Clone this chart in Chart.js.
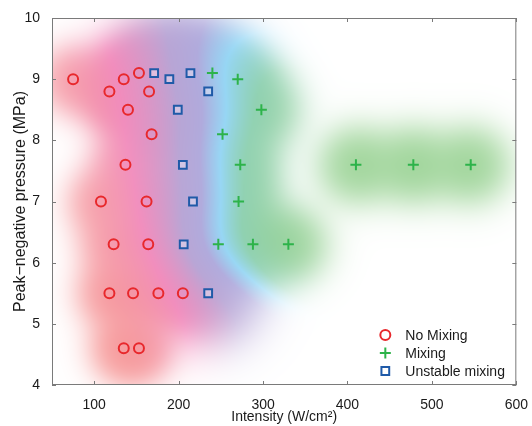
<!DOCTYPE html>
<html><head><meta charset="utf-8">
<script src="https://cdn.jsdelivr.net/npm/chart.js@4/dist/chart.umd.min.js"></script>
<style>html,body{margin:0;padding:0;background:#fff;}canvas{display:block;}</style>
</head><body>
<canvas id="c" width="532" height="426"></canvas>
<script>
// ---- data ----
const noMixX = [75,118,135,153,165,140,168,137,108,162,123,164,118,146,176,205,135,153];
const noMixY = [9.0,8.8,9.0,9.1,8.8,8.5,8.1,7.6,7.0,7.0,6.3,6.3,5.5,5.5,5.5,5.5,4.6,4.6];
const mixX = [240,270,298,252,273,271,247,288,330,410,478,546];
const mixY = [9.1,9.0,8.5,8.1,7.6,7.0,6.3,6.3,6.3,7.6,7.6,7.6];
const unstX = [171,189,214,235,199,205,217,206,235];
const unstY = [9.1,9.0,9.1,8.8,8.5,7.6,7.0,6.3,5.5];
const seriesLabels = ['No Mixing','Mixing','Unstable mixing'];
const xTicks = [100,200,300,400,500,600];
const yTicks = [4,5,6,7,8,9,10];
const xTitle = 'Intensity (W/cm\u00B2)';
const yTitle = 'Peak\u2212negative pressure (MPa)';

const pts = (xs, ys) => xs.map((v,i)=>({x:v,y:ys[i]}));

// background map style: class score per dataset (0 no mixing, 1 mixing, 0.5 unstable)
const classScore = [0, 1, 0.5];
const scoreSigma = [36, 28, 42];
const scoreWeight = [1, 1, 1.3];
const alphaSigma = [21, 24, 32];
const alphaWeight = [1, 1, 1.25];
const mapStyle = { kAlpha:1.6,
  stops:[[0.00,[246,152,150]],[0.16,[241,140,188]],[0.38,[184,165,213]],[0.52,[176,170,220]],[0.66,[150,214,244]],[0.78,[142,208,176]],[1.00,[146,207,140]]] };

function cmap(s){
  const st = mapStyle.stops;
  if (s<=st[0][0]) return st[0][1];
  for (let i=1;i<st.length;i++){
    if (s<=st[i][0]){ const t=(s-st[i-1][0])/(st[i][0]-st[i-1][0]);
      return [0,1,2].map(c=>st[i-1][1][c]*(1-t)+st[i][1][c]*t); }
  }
  return st[st.length-1][1];
}

const mapPlugin = {
  id:'densityMap',
  beforeDatasetsDraw(chart){
    const {ctx, chartArea:a, scales:{x,y}} = chart;
    const W = Math.round(a.right-a.left), H = Math.round(a.bottom-a.top);
    const P = [];
    chart.data.datasets.forEach((ds,k)=>ds.data.forEach(p=>P.push([
      x.getPixelForValue(p.x)-a.left, y.getPixelForValue(p.y)-a.top, classScore[k],
      1/(2*scoreSigma[k]*scoreSigma[k]), 1/(2*alphaSigma[k]*alphaSigma[k]), scoreWeight[k], alphaWeight[k]])));
    const img = ctx.createImageData(W,H);
    const D = img.data, S = mapStyle;
    for (let j=0;j<H;j++) for (let i=0;i<W;i++){
      let num=0, den=0, dens=0;
      for (const q of P){
        const dx=i-q[0], dy=j-q[1], r2=dx*dx+dy*dy;
        const w=q[5]*Math.exp(-r2*q[3]); num+=w*q[2]; den+=w;
        dens+=q[6]*Math.exp(-r2*q[4]);
      }
      const s = den>1e-300 ? num/den : 0.5;
      const col = cmap(s);
      const alpha = 1-Math.exp(-S.kAlpha*dens);
      const o=(j*W+i)*4;
      for (let c=0;c<3;c++) D[o+c]=255*(1-alpha)+col[c]*alpha;
      D[o+3]=255;
    }
    ctx.putImageData(img, Math.round(a.left), Math.round(a.top));
  }
};

function drawMarker(ctx, ds, cx, cy){
  ctx.save();
  ctx.strokeStyle = ds.borderColor; ctx.lineWidth = ds.borderWidth;
  const r = ds.pointRadius;
  ctx.beginPath();
  if (ds.pointStyle === 'circle') { ctx.arc(cx,cy,r,0,Math.PI*2); }
  else if (ds.pointStyle === 'cross') { ctx.moveTo(cx-r,cy); ctx.lineTo(cx+r,cy); ctx.moveTo(cx,cy-r); ctx.lineTo(cx,cy+r); }
  else { const s=r*Math.SQRT1_2; ctx.fillStyle='#fff'; ctx.rect(cx-s,cy-s,2*s,2*s); ctx.fill(); }
  ctx.stroke();
  ctx.restore();
}

const framePlugin = {
  id:'frame',
  afterDatasetsDraw(chart){
    const {ctx, chartArea:a, scales:{x,y}} = chart;
    ctx.save();
    ctx.strokeStyle = '#7a7a7a'; ctx.lineWidth = 1;
    ctx.strokeRect(a.left+0.5, a.top+0.5, a.right-a.left-1, a.bottom-a.top-1);
    ctx.beginPath();
    const t = 4;
    xTicks.forEach(v=>{ const px=Math.round(x.getPixelForValue(v))+0.5;
      ctx.moveTo(px,a.bottom); ctx.lineTo(px,a.bottom-t);
      ctx.moveTo(px,a.top); ctx.lineTo(px,a.top+t); });
    yTicks.forEach(v=>{ const py=Math.round(y.getPixelForValue(v))+0.5;
      ctx.moveTo(a.left,py); ctx.lineTo(a.left+t,py);
      ctx.moveTo(a.right,py); ctx.lineTo(a.right-t,py); });
    ctx.stroke();
    // legend
    ctx.font = '14px "Liberation Sans", Arial, sans-serif';
    ctx.textBaseline = 'middle'; ctx.textAlign='left';
    chart.data.datasets.forEach((ds,i)=>{
      const my = a.bottom - 50 + i*18;
      const mx = a.right - 131;
      drawMarker(ctx, ds, mx, my);
      ctx.fillStyle = '#1a1a1a';
      ctx.fillText(ds.label, mx + 20, my + 1);
    });
    ctx.restore();
  }
};

const tickFont = {family:'"Liberation Sans", Arial, sans-serif', size:14};

new Chart(document.getElementById('c'), {
  type:'scatter',
  data:{datasets:[
    {label:seriesLabels[0], data:pts(noMixX,noMixY), pointStyle:'circle', pointRadius:5, borderWidth:2, borderColor:'#e8282c', backgroundColor:'rgba(0,0,0,0)'},
    {label:seriesLabels[1], data:pts(mixX,mixY), pointStyle:'cross', pointRadius:5.5, borderWidth:2, borderColor:'#2db34a', backgroundColor:'rgba(0,0,0,0)'},
    {label:seriesLabels[2], data:pts(unstX,unstY), pointStyle:'rect', pointRadius:5.5, borderWidth:2, borderColor:'#1f5aa8', backgroundColor:'rgba(255,255,255,0.35)'}
  ]},
  options:{
    responsive:false, animation:false, devicePixelRatio:1,
    layout:{padding:{top:18,right:14,left:0,bottom:0}},
    plugins:{legend:{display:false}, tooltip:{enabled:false}},
    scales:{
      x:{type:'linear', position:'bottom', min:50, max:600,
        grid:{display:false}, border:{display:false},
        afterBuildTicks:s=>{ s.ticks = xTicks.map(v=>({value:v})); },
        afterFit:s=>{ s.height = 41; },
        ticks:{font:tickFont, color:'#1a1a1a', padding:4, maxRotation:0, autoSkip:false},
        title:{display:true, text:xTitle, font:{family:tickFont.family,size:14}, color:'#1a1a1a', padding:{top:0,bottom:0}}
      },
      y:{type:'linear', min:4, max:10,
        grid:{display:false}, border:{display:false},
        afterBuildTicks:s=>{ s.ticks = yTicks.map(v=>({value:v})); },
        afterFit:s=>{ s.width = 52; },
        ticks:{font:tickFont, color:'#1a1a1a', padding:4, autoSkip:false},
        title:{display:true, text:yTitle, font:{family:tickFont.family,size:16}, color:'#1a1a1a', padding:{top:11,bottom:0}}
      }
    }
  },
  plugins:[mapPlugin, framePlugin]
});
</script>
</body></html>
